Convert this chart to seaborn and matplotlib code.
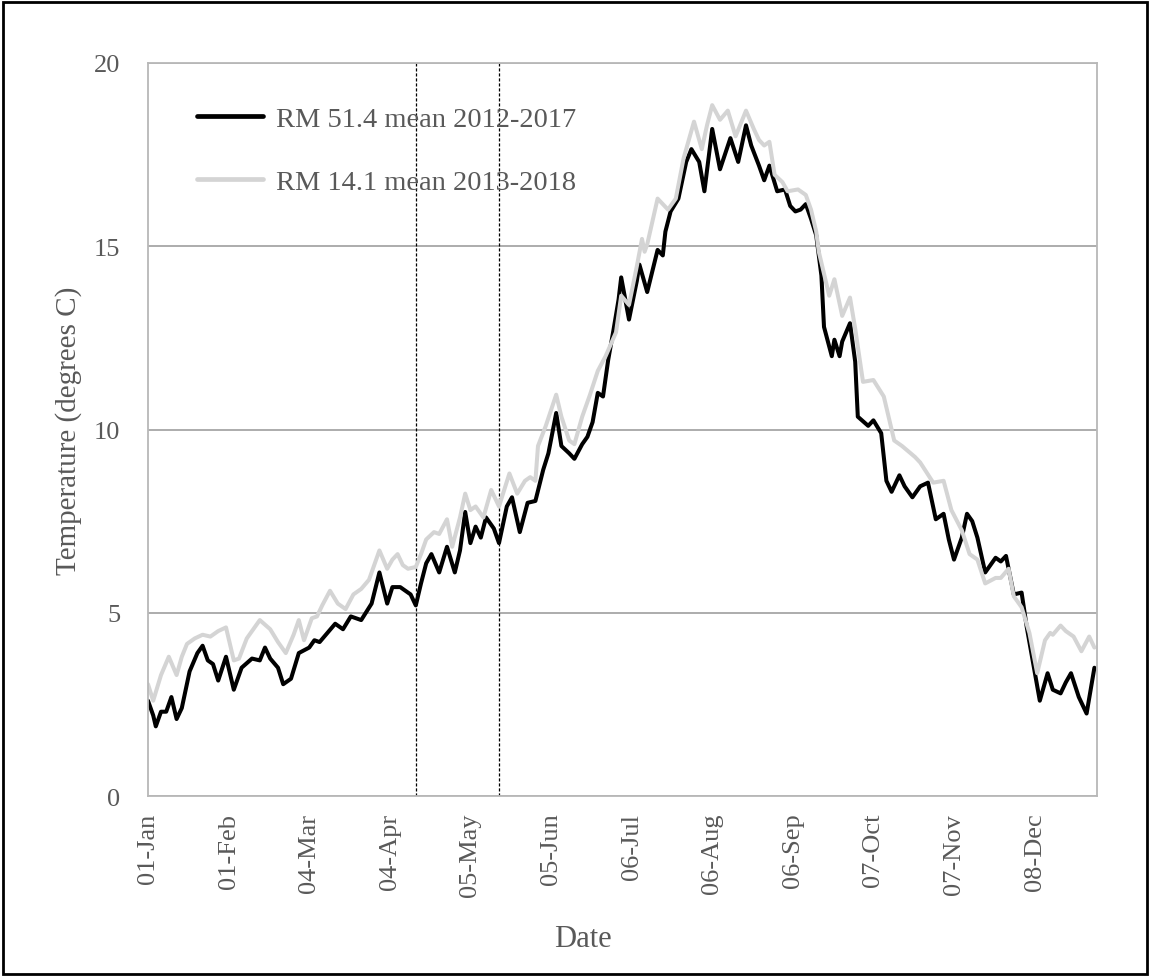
import numpy as np
import pandas as pd
import seaborn as sns
import matplotlib.pyplot as plt
from matplotlib.patches import Rectangle

# day of year (0 = 01-Jan) and daily mean temperature
black_days = [0, 2, 3, 5, 7, 9, 11, 13, 16, 19, 21, 23, 25, 27, 30, 33, 36, 40, 43, 45,
              47, 50, 52, 55, 58, 62, 64, 66, 69, 72, 75, 78, 82, 86, 89, 92, 94, 97, 99, 101,
              103, 105, 107, 109, 112, 115, 118, 120, 122, 124, 126, 128, 130, 133, 135, 138, 140, 143, 146, 149,
              152, 154, 157, 159, 162, 164, 167, 169, 171, 173, 175, 177, 179, 181, 182, 185, 188, 189, 192, 196,
              198, 199, 201, 204, 207, 209, 212, 214, 217, 220, 224, 227, 230, 232, 235, 237, 239, 242, 245, 247,
              249, 251, 253, 255, 257, 259, 260, 263, 264, 266, 267, 270, 272, 273, 277, 279, 282, 284, 286, 289,
              291, 294, 297, 300, 303, 306, 308, 310, 313, 315, 317, 319, 322, 326, 328, 330, 333, 336, 338, 341,
              343, 346, 348, 351, 353, 355, 358, 361, 364]
black_temp = [2.6, 2.2, 1.9, 2.3, 2.3, 2.7, 2.1, 2.4, 3.4, 3.9, 4.1, 3.7, 3.6, 3.15, 3.8, 2.9, 3.5, 3.75, 3.7, 4.05,
              3.75, 3.5, 3.05, 3.2, 3.9, 4.05, 4.25, 4.2, 4.45, 4.7, 4.55, 4.9, 4.8, 5.25, 6.1, 5.25, 5.7, 5.7, 5.6, 5.5,
              5.2, 5.8, 6.35, 6.6, 6.1, 6.8, 6.1, 6.7, 7.75, 6.9, 7.35, 7.05, 7.6, 7.3, 6.9, 7.9, 8.15, 7.2, 8.0, 8.05,
              8.9, 9.35, 10.45, 9.55, 9.35, 9.2, 9.6, 9.8, 10.2, 11.0, 10.9, 11.9, 12.7, 13.55, 14.15, 13.0, 14.05, 14.5, 13.75, 14.9,
              14.75, 15.4, 15.95, 16.3, 17.3, 17.65, 17.3, 16.5, 18.2, 17.1, 17.95, 17.3, 18.3, 17.75, 17.2, 16.8, 17.2, 16.5, 16.55, 16.1,
              15.95, 16.0, 16.15, 15.75, 15.3, 14.2, 12.8, 12.0, 12.45, 12.0, 12.4, 12.9, 11.85, 10.35, 10.1, 10.25, 9.9, 8.6, 8.3, 8.75,
              8.45, 8.15, 8.45, 8.55, 7.55, 7.7, 7.0, 6.45, 7.05, 7.7, 7.5, 7.05, 6.1, 6.5, 6.4, 6.55, 5.5, 5.55, 4.6, 3.4,
              2.6, 3.35, 2.9, 2.8, 3.1, 3.35, 2.7, 2.25, 3.5]

gray_days = [0, 2, 5, 8, 11, 13, 15, 18, 21, 24, 27, 30, 33, 35, 38, 41, 43, 47, 50, 53,
             56, 58, 60, 63, 65, 67, 70, 73, 76, 79, 82, 85, 87, 89, 92, 94, 96, 98, 100, 103,
             105, 107, 110, 112, 115, 117, 120, 122, 124, 126, 129, 132, 135, 139, 142, 145, 147, 149, 150, 153,
             157, 159, 162, 164, 167, 168, 170, 173, 176, 180, 182, 185, 188, 190, 191, 192, 196, 200, 203, 206,
             208, 210, 213, 215, 217, 220, 223, 226, 230, 233, 235, 237, 239, 241, 244, 246, 250, 253, 255, 257,
             258, 262, 264, 267, 270, 272, 275, 279, 283, 285, 287, 290, 295, 297, 302, 306, 309, 313, 316, 319,
             322, 326, 328, 331, 333, 336, 339, 342, 345, 347, 348, 351, 353, 356, 359, 362, 364]
gray_temp = [3.05, 2.6, 3.3, 3.8, 3.3, 3.8, 4.15, 4.3, 4.4, 4.35, 4.5, 4.6, 3.7, 3.75, 4.3, 4.6, 4.8, 4.55, 4.2, 3.9,
             4.4, 4.8, 4.25, 4.85, 4.9, 5.2, 5.6, 5.25, 5.1, 5.5, 5.65, 5.9, 6.3, 6.7, 6.2, 6.45, 6.6, 6.3, 6.2, 6.25,
             6.6, 7.0, 7.2, 7.15, 7.55, 6.8, 7.6, 8.25, 7.8, 7.9, 7.6, 8.35, 7.9, 8.8, 8.25, 8.6, 8.7, 8.6, 9.55, 10.1,
             10.95, 10.35, 9.7, 9.6, 10.35, 10.55, 10.95, 11.6, 12.0, 12.65, 13.65, 13.4, 14.45, 15.2, 14.85, 15.05, 16.3, 16.0, 16.3, 17.4,
             17.9, 18.4, 17.65, 18.3, 18.85, 18.45, 18.7, 18.0, 18.7, 18.2, 17.9, 17.75, 17.85, 16.95, 16.75, 16.5, 16.55, 16.4, 16.0, 15.4,
             14.85, 13.65, 14.1, 13.1, 13.6, 12.75, 11.3, 11.35, 10.9, 10.3, 9.7, 9.55, 9.25, 9.1, 8.55, 8.6, 7.8, 7.25, 6.6, 6.45,
             5.8, 5.95, 5.95, 6.2, 5.45, 5.15, 4.45, 3.35, 4.25, 4.45, 4.4, 4.65, 4.5, 4.35, 3.95, 4.35, 4.05]

series_names = ["RM 51.4 mean 2012-2017", "RM 14.1 mean 2013-2018"]
series_colors = ["#000000", "#d4d4d4"]

tick_days = [0, 31, 62, 93, 124, 155, 186, 217, 248, 279, 310, 341]
tick_labels = ["01-Jan", "01-Feb", "04-Mar", "04-Apr", "05-May", "05-Jun",
               "06-Jul", "06-Aug", "06-Sep", "07-Oct", "07-Nov", "08-Dec"]
marked_days = [103, 135]

df = pd.concat([
    pd.DataFrame({"day": black_days, "temp": black_temp, "series": series_names[0]}),
    pd.DataFrame({"day": gray_days, "temp": gray_temp, "series": series_names[1]}),
])

sns.set_style("white")
plt.rcParams["font.family"] = ["Liberation Serif", "DejaVu Serif"]
txt = "#595959"
grid = "#a6a6a6"

fig = plt.figure(figsize=(11.5, 9.78), dpi=100)
ax = fig.add_axes([148 / 1150, 1 - 797 / 978, 949 / 1150, 733 / 978])

sns.lineplot(data=df, x="day", y="temp", hue="series", hue_order=series_names,
             palette=series_colors, estimator=None, sort=False, linewidth=2.9, ax=ax)

for d in marked_days:
    ax.axvline(d, color="black", linewidth=0.9, linestyle=(0, (2.5, 1.5)), zorder=1)

ax.set_xlim(0, 365)
ax.set_ylim(0, 20)
ax.set_yticks([0, 5, 10, 15, 20])
ax.set_xticks(tick_days)
ax.set_xticklabels(tick_labels, rotation=90)
ax.tick_params(axis="both", length=0, labelsize=19, colors=txt)
ax.tick_params(axis="y", pad=20)
ax.tick_params(axis="x", pad=12)
ax.yaxis.grid(True, color=grid, linewidth=1.3)
ax.set_axisbelow(True)
for s in ax.spines.values():
    s.set_color("#b8b8b8")
    s.set_linewidth(1.3)

ax.set_xlabel("Date", fontsize=22, color=txt)
ax.set_ylabel("Temperature (degrees C)", fontsize=21, color=txt)
ax.xaxis.set_label_coords(0.458, -0.175)
ax.yaxis.set_label_coords(-0.07, 0.5)

leg = ax.legend(loc="upper left", bbox_to_anchor=(0.052, 0.941), frameon=False,
                fontsize=20.5, handlelength=2.3, handletextpad=0.45, labelspacing=1.3,
                borderpad=0, borderaxespad=0)
for t in leg.get_texts():
    t.set_color(txt)
for h in leg.get_lines():
    h.set_linewidth(3.4)

fig.patches.append(Rectangle((0.003, 0.003), 0.994, 0.994, transform=fig.transFigure,
                             fill=False, edgecolor="black", linewidth=2))

fig.savefig("out.png", dpi=100)
